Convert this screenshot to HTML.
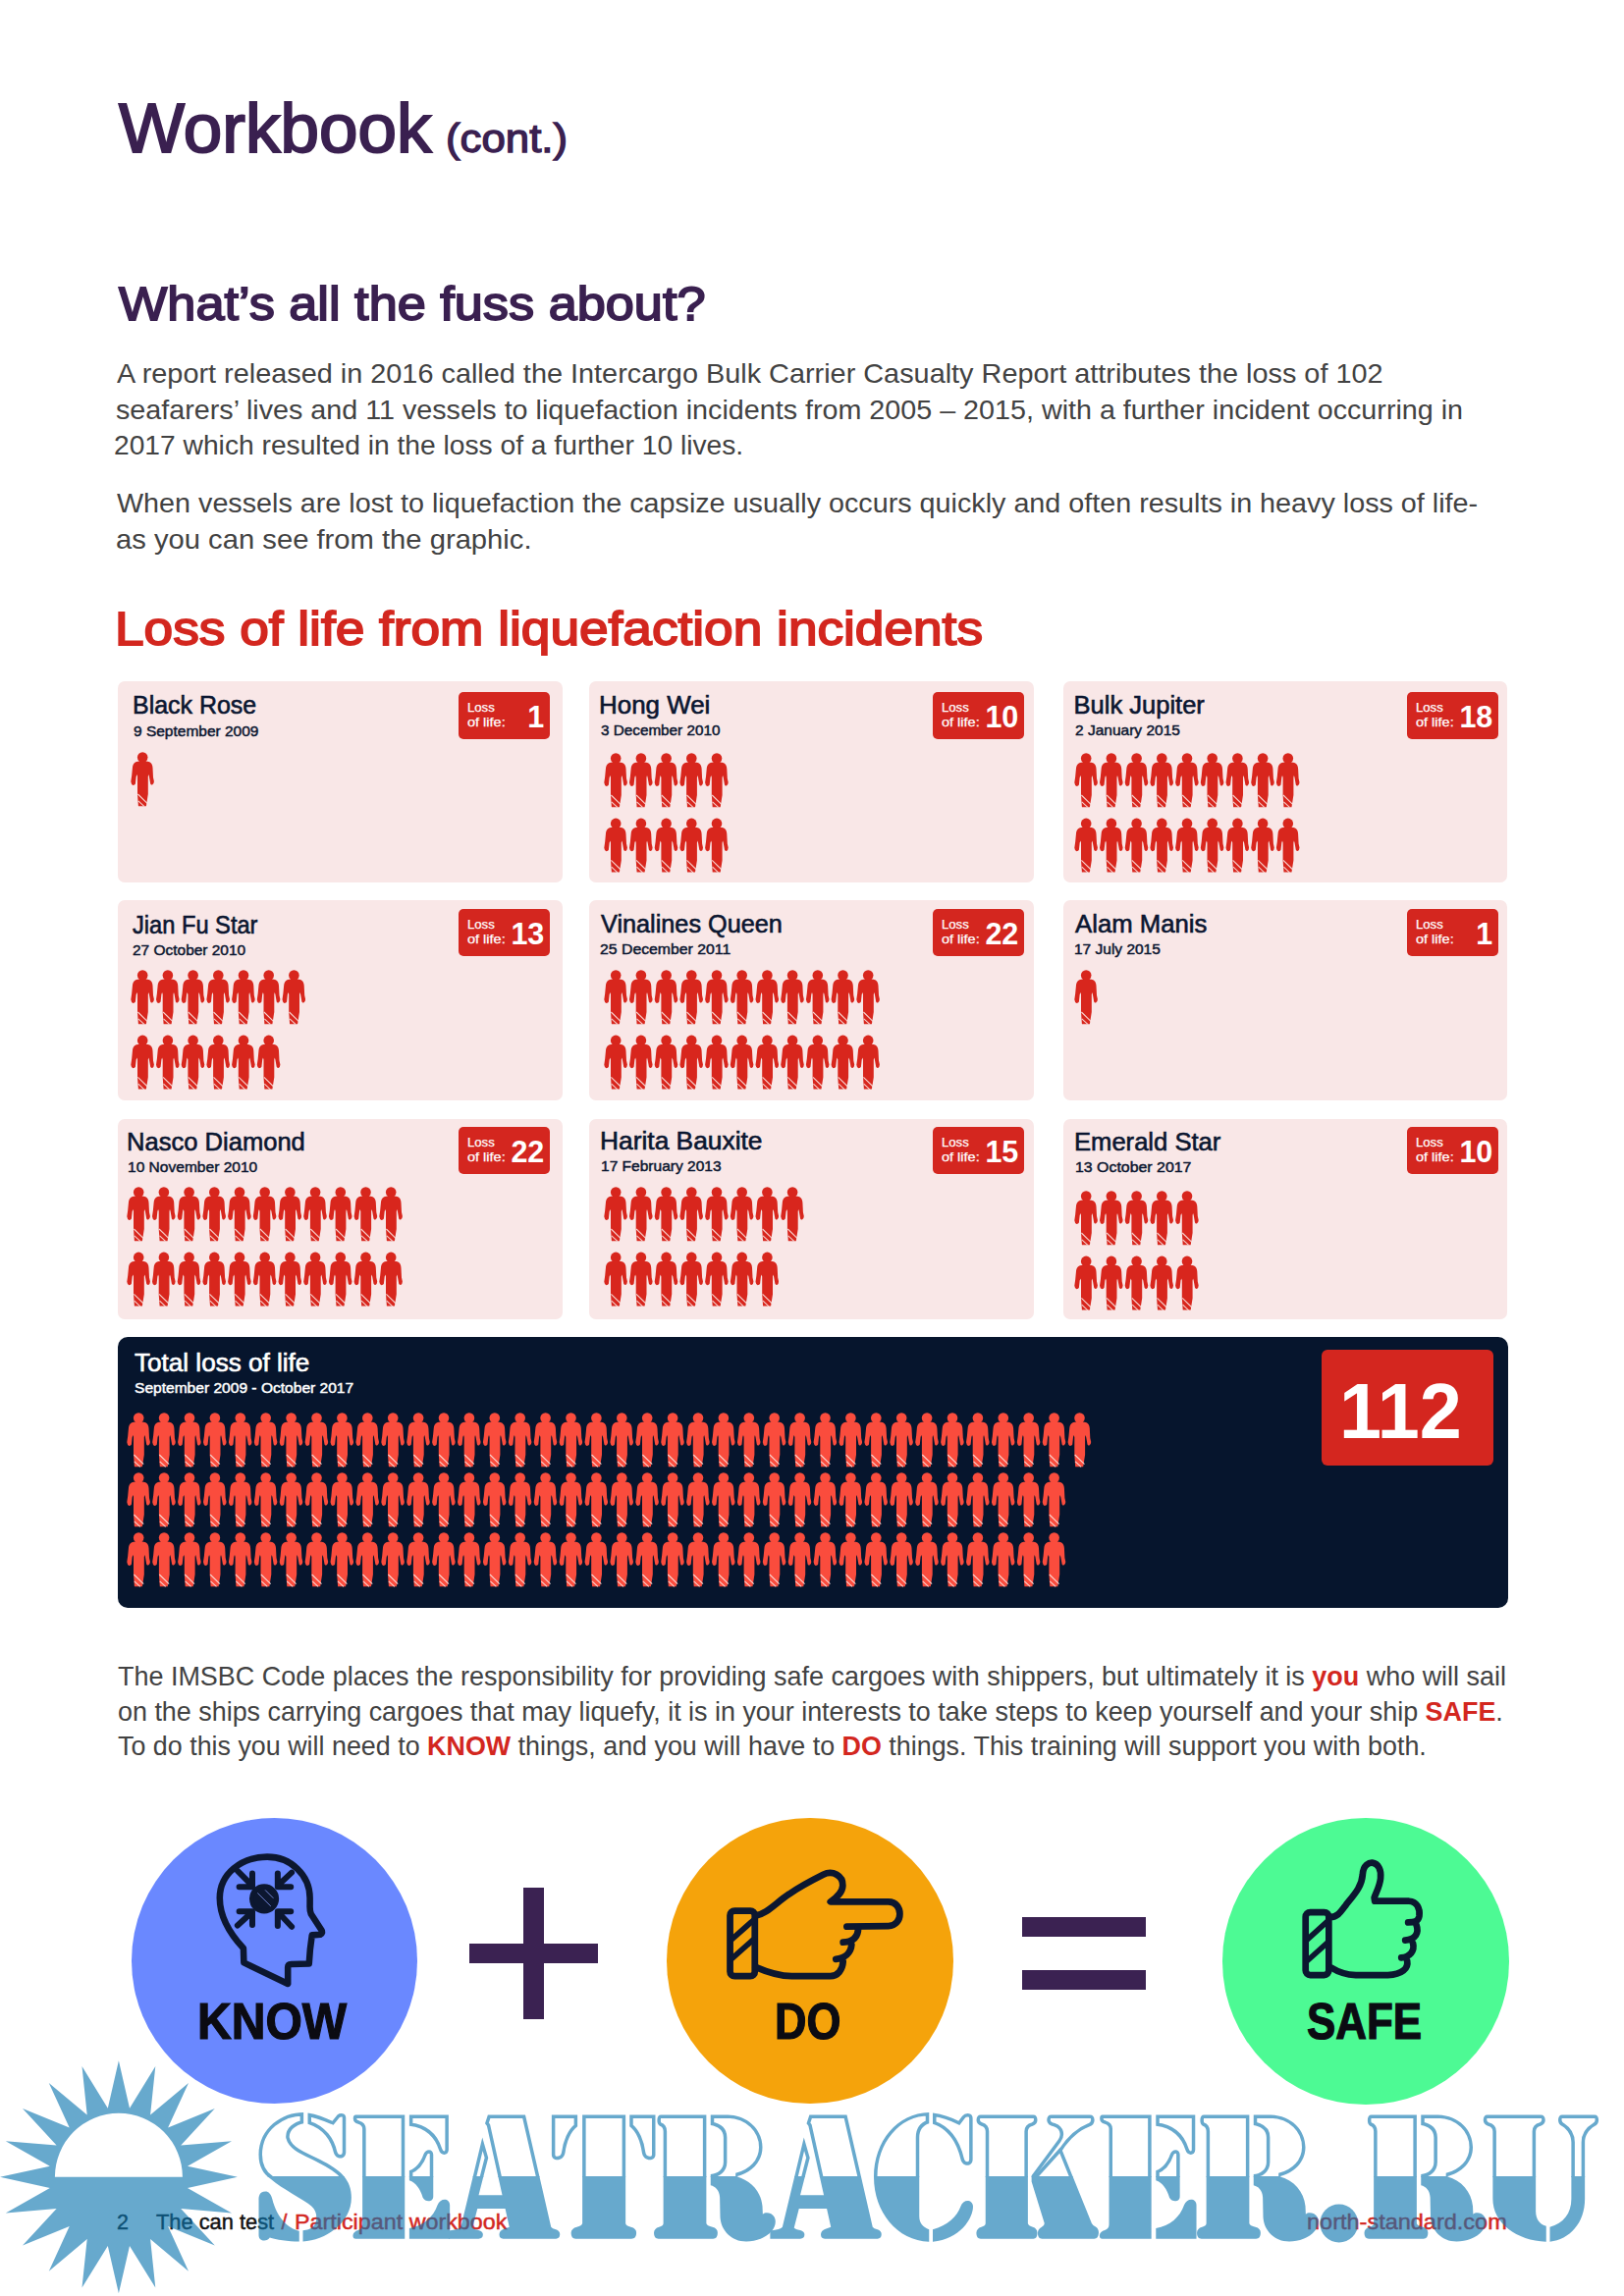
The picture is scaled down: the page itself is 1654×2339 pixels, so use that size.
<!DOCTYPE html>
<html><head><meta charset="utf-8"><title>Workbook</title>
<style>
html,body{margin:0;padding:0;background:#fff}
#page{position:relative;width:1654px;height:2339px;overflow:hidden;background:#fff;font-family:'Liberation Sans', sans-serif}
.t{position:absolute;white-space:nowrap;line-height:1;display:block}
.card{position:absolute;width:452.6px;height:204.3px;background:#f9e7e7;border-radius:7px}
.badge{position:absolute;width:93px;height:48px;background:#d4261f;border-radius:5px}
.total{position:absolute;background:#06152d;border-radius:10px}
.bigbadge{position:absolute;background:#d4261f;border-radius:6px}
.circ{position:absolute;width:291.5px;height:291.5px;border-radius:50%}
.bar{position:absolute;background:#3b2252}
</style></head>
<body><div id="page">
<svg width="0" height="0" style="position:absolute"><defs><g id="pr"><ellipse cx="12.2" cy="6.5" rx="5.3" ry="5.3"/><rect x="9.3" y="8" width="6" height="5"/><path d="M9.3 10.4 Q4.4 10.6 2.9 13.4 Q2.1 15 2 16.5 L1.2 25 L0.3 31.3 Q0.7 34.4 2.4 34.9 Q4.4 34.6 4.9 33.4 L5.7 26 L6.4 24 L7 26 L7 44 L7.9 56.2 L15.9 56.2 L17.8 44 L17.8 26 L18.3 24 L18.9 26 L20.2 33.4 Q20.8 34.6 22.1 34.6 Q23.8 34 23.9 31 L23 27 L22.5 17 Q22.4 15 21.6 13.4 Q20.2 10.6 15.3 10.4 Z"/><path d="M7.4 44 L17.2 53.6 M7.8 50.8 L13.8 56.4" stroke="#fbe3e0" stroke-width="1.1" fill="none" opacity="0.9"/></g></defs></svg>
<div class="card" style="left:120px;top:694.3px"></div>
<div class="badge" style="left:467px;top:705px"></div>
<svg style="position:absolute;left:132.89999999999998px;top:765.4px" width="56" height="76" fill="#d8261d"><use href="#pr" x="0.00" y="0.00"/></svg>
<div class="card" style="left:600px;top:694.3px"></div>
<div class="badge" style="left:950px;top:705px"></div>
<svg style="position:absolute;left:614.9000000000001px;top:765.8px" width="158" height="143" fill="#d8261d"><use href="#pr" x="0.00" y="0.00"/><use href="#pr" x="25.70" y="0.00"/><use href="#pr" x="51.40" y="0.00"/><use href="#pr" x="77.10" y="0.00"/><use href="#pr" x="102.80" y="0.00"/><use href="#pr" x="0.00" y="66.40"/><use href="#pr" x="25.70" y="66.40"/><use href="#pr" x="51.40" y="66.40"/><use href="#pr" x="77.10" y="66.40"/><use href="#pr" x="102.80" y="66.40"/></svg>
<div class="card" style="left:1082.5px;top:694.3px"></div>
<div class="badge" style="left:1433px;top:705px"></div>
<svg style="position:absolute;left:1093.6000000000001px;top:766.0px" width="261" height="143" fill="#d8261d"><use href="#pr" x="0.00" y="0.00"/><use href="#pr" x="25.70" y="0.00"/><use href="#pr" x="51.40" y="0.00"/><use href="#pr" x="77.10" y="0.00"/><use href="#pr" x="102.80" y="0.00"/><use href="#pr" x="128.50" y="0.00"/><use href="#pr" x="154.20" y="0.00"/><use href="#pr" x="179.90" y="0.00"/><use href="#pr" x="205.60" y="0.00"/><use href="#pr" x="0.00" y="66.40"/><use href="#pr" x="25.70" y="66.40"/><use href="#pr" x="51.40" y="66.40"/><use href="#pr" x="77.10" y="66.40"/><use href="#pr" x="102.80" y="66.40"/><use href="#pr" x="128.50" y="66.40"/><use href="#pr" x="154.20" y="66.40"/><use href="#pr" x="179.90" y="66.40"/><use href="#pr" x="205.60" y="66.40"/></svg>
<div class="card" style="left:120px;top:917.1px"></div>
<div class="badge" style="left:467px;top:926px"></div>
<svg style="position:absolute;left:133.2px;top:987.4px" width="210" height="143" fill="#d8261d"><use href="#pr" x="0.00" y="0.00"/><use href="#pr" x="25.70" y="0.00"/><use href="#pr" x="51.40" y="0.00"/><use href="#pr" x="77.10" y="0.00"/><use href="#pr" x="102.80" y="0.00"/><use href="#pr" x="128.50" y="0.00"/><use href="#pr" x="154.20" y="0.00"/><use href="#pr" x="0.00" y="66.40"/><use href="#pr" x="25.70" y="66.40"/><use href="#pr" x="51.40" y="66.40"/><use href="#pr" x="77.10" y="66.40"/><use href="#pr" x="102.80" y="66.40"/><use href="#pr" x="128.50" y="66.40"/></svg>
<div class="card" style="left:600px;top:917.1px"></div>
<div class="badge" style="left:950px;top:926px"></div>
<svg style="position:absolute;left:614.5px;top:987.4px" width="313" height="143" fill="#d8261d"><use href="#pr" x="0.00" y="0.00"/><use href="#pr" x="25.70" y="0.00"/><use href="#pr" x="51.40" y="0.00"/><use href="#pr" x="77.10" y="0.00"/><use href="#pr" x="102.80" y="0.00"/><use href="#pr" x="128.50" y="0.00"/><use href="#pr" x="154.20" y="0.00"/><use href="#pr" x="179.90" y="0.00"/><use href="#pr" x="205.60" y="0.00"/><use href="#pr" x="231.30" y="0.00"/><use href="#pr" x="257.00" y="0.00"/><use href="#pr" x="0.00" y="66.40"/><use href="#pr" x="25.70" y="66.40"/><use href="#pr" x="51.40" y="66.40"/><use href="#pr" x="77.10" y="66.40"/><use href="#pr" x="102.80" y="66.40"/><use href="#pr" x="128.50" y="66.40"/><use href="#pr" x="154.20" y="66.40"/><use href="#pr" x="179.90" y="66.40"/><use href="#pr" x="205.60" y="66.40"/><use href="#pr" x="231.30" y="66.40"/><use href="#pr" x="257.00" y="66.40"/></svg>
<div class="card" style="left:1082.5px;top:917.1px"></div>
<div class="badge" style="left:1433px;top:926px"></div>
<svg style="position:absolute;left:1093.6000000000001px;top:987.0px" width="56" height="76" fill="#d8261d"><use href="#pr" x="0.00" y="0.00"/></svg>
<div class="card" style="left:120px;top:1139.6px"></div>
<div class="badge" style="left:467px;top:1148px"></div>
<svg style="position:absolute;left:129.29999999999998px;top:1208.3999999999999px" width="313" height="143" fill="#d8261d"><use href="#pr" x="0.00" y="0.00"/><use href="#pr" x="25.70" y="0.00"/><use href="#pr" x="51.40" y="0.00"/><use href="#pr" x="77.10" y="0.00"/><use href="#pr" x="102.80" y="0.00"/><use href="#pr" x="128.50" y="0.00"/><use href="#pr" x="154.20" y="0.00"/><use href="#pr" x="179.90" y="0.00"/><use href="#pr" x="205.60" y="0.00"/><use href="#pr" x="231.30" y="0.00"/><use href="#pr" x="257.00" y="0.00"/><use href="#pr" x="0.00" y="66.40"/><use href="#pr" x="25.70" y="66.40"/><use href="#pr" x="51.40" y="66.40"/><use href="#pr" x="77.10" y="66.40"/><use href="#pr" x="102.80" y="66.40"/><use href="#pr" x="128.50" y="66.40"/><use href="#pr" x="154.20" y="66.40"/><use href="#pr" x="179.90" y="66.40"/><use href="#pr" x="205.60" y="66.40"/><use href="#pr" x="231.30" y="66.40"/><use href="#pr" x="257.00" y="66.40"/></svg>
<div class="card" style="left:600px;top:1139.6px"></div>
<div class="badge" style="left:950px;top:1148px"></div>
<svg style="position:absolute;left:614.5px;top:1208.3999999999999px" width="236" height="143" fill="#d8261d"><use href="#pr" x="0.00" y="0.00"/><use href="#pr" x="25.70" y="0.00"/><use href="#pr" x="51.40" y="0.00"/><use href="#pr" x="77.10" y="0.00"/><use href="#pr" x="102.80" y="0.00"/><use href="#pr" x="128.50" y="0.00"/><use href="#pr" x="154.20" y="0.00"/><use href="#pr" x="179.90" y="0.00"/><use href="#pr" x="0.00" y="66.40"/><use href="#pr" x="25.70" y="66.40"/><use href="#pr" x="51.40" y="66.40"/><use href="#pr" x="77.10" y="66.40"/><use href="#pr" x="102.80" y="66.40"/><use href="#pr" x="128.50" y="66.40"/><use href="#pr" x="154.20" y="66.40"/></svg>
<div class="card" style="left:1082.5px;top:1139.6px"></div>
<div class="badge" style="left:1433px;top:1148px"></div>
<svg style="position:absolute;left:1093.6000000000001px;top:1211.8px" width="158" height="143" fill="#d8261d"><use href="#pr" x="0.00" y="0.00"/><use href="#pr" x="25.70" y="0.00"/><use href="#pr" x="51.40" y="0.00"/><use href="#pr" x="77.10" y="0.00"/><use href="#pr" x="102.80" y="0.00"/><use href="#pr" x="0.00" y="66.40"/><use href="#pr" x="25.70" y="66.40"/><use href="#pr" x="51.40" y="66.40"/><use href="#pr" x="77.10" y="66.40"/><use href="#pr" x="102.80" y="66.40"/></svg>
<div class="total" style="left:120px;top:1362px;width:1416px;height:275.5px"></div>
<div class="bigbadge" style="left:1346px;top:1375px;width:175px;height:118px"></div>
<svg style="position:absolute;left:129.4px;top:1437.9px" width="1014" height="193" fill="#fa4c3d"><use href="#pr" x="0.00" y="0.00"/><use href="#pr" x="25.90" y="0.00"/><use href="#pr" x="51.80" y="0.00"/><use href="#pr" x="77.70" y="0.00"/><use href="#pr" x="103.60" y="0.00"/><use href="#pr" x="129.50" y="0.00"/><use href="#pr" x="155.40" y="0.00"/><use href="#pr" x="181.30" y="0.00"/><use href="#pr" x="207.20" y="0.00"/><use href="#pr" x="233.10" y="0.00"/><use href="#pr" x="259.00" y="0.00"/><use href="#pr" x="284.90" y="0.00"/><use href="#pr" x="310.80" y="0.00"/><use href="#pr" x="336.70" y="0.00"/><use href="#pr" x="362.60" y="0.00"/><use href="#pr" x="388.50" y="0.00"/><use href="#pr" x="414.40" y="0.00"/><use href="#pr" x="440.30" y="0.00"/><use href="#pr" x="466.20" y="0.00"/><use href="#pr" x="492.10" y="0.00"/><use href="#pr" x="518.00" y="0.00"/><use href="#pr" x="543.90" y="0.00"/><use href="#pr" x="569.80" y="0.00"/><use href="#pr" x="595.70" y="0.00"/><use href="#pr" x="621.60" y="0.00"/><use href="#pr" x="647.50" y="0.00"/><use href="#pr" x="673.40" y="0.00"/><use href="#pr" x="699.30" y="0.00"/><use href="#pr" x="725.20" y="0.00"/><use href="#pr" x="751.10" y="0.00"/><use href="#pr" x="777.00" y="0.00"/><use href="#pr" x="802.90" y="0.00"/><use href="#pr" x="828.80" y="0.00"/><use href="#pr" x="854.70" y="0.00"/><use href="#pr" x="880.60" y="0.00"/><use href="#pr" x="906.50" y="0.00"/><use href="#pr" x="932.40" y="0.00"/><use href="#pr" x="958.30" y="0.00"/><use href="#pr" x="0.00" y="61.00"/><use href="#pr" x="25.90" y="61.00"/><use href="#pr" x="51.80" y="61.00"/><use href="#pr" x="77.70" y="61.00"/><use href="#pr" x="103.60" y="61.00"/><use href="#pr" x="129.50" y="61.00"/><use href="#pr" x="155.40" y="61.00"/><use href="#pr" x="181.30" y="61.00"/><use href="#pr" x="207.20" y="61.00"/><use href="#pr" x="233.10" y="61.00"/><use href="#pr" x="259.00" y="61.00"/><use href="#pr" x="284.90" y="61.00"/><use href="#pr" x="310.80" y="61.00"/><use href="#pr" x="336.70" y="61.00"/><use href="#pr" x="362.60" y="61.00"/><use href="#pr" x="388.50" y="61.00"/><use href="#pr" x="414.40" y="61.00"/><use href="#pr" x="440.30" y="61.00"/><use href="#pr" x="466.20" y="61.00"/><use href="#pr" x="492.10" y="61.00"/><use href="#pr" x="518.00" y="61.00"/><use href="#pr" x="543.90" y="61.00"/><use href="#pr" x="569.80" y="61.00"/><use href="#pr" x="595.70" y="61.00"/><use href="#pr" x="621.60" y="61.00"/><use href="#pr" x="647.50" y="61.00"/><use href="#pr" x="673.40" y="61.00"/><use href="#pr" x="699.30" y="61.00"/><use href="#pr" x="725.20" y="61.00"/><use href="#pr" x="751.10" y="61.00"/><use href="#pr" x="777.00" y="61.00"/><use href="#pr" x="802.90" y="61.00"/><use href="#pr" x="828.80" y="61.00"/><use href="#pr" x="854.70" y="61.00"/><use href="#pr" x="880.60" y="61.00"/><use href="#pr" x="906.50" y="61.00"/><use href="#pr" x="932.40" y="61.00"/><use href="#pr" x="0.00" y="122.00"/><use href="#pr" x="25.90" y="122.00"/><use href="#pr" x="51.80" y="122.00"/><use href="#pr" x="77.70" y="122.00"/><use href="#pr" x="103.60" y="122.00"/><use href="#pr" x="129.50" y="122.00"/><use href="#pr" x="155.40" y="122.00"/><use href="#pr" x="181.30" y="122.00"/><use href="#pr" x="207.20" y="122.00"/><use href="#pr" x="233.10" y="122.00"/><use href="#pr" x="259.00" y="122.00"/><use href="#pr" x="284.90" y="122.00"/><use href="#pr" x="310.80" y="122.00"/><use href="#pr" x="336.70" y="122.00"/><use href="#pr" x="362.60" y="122.00"/><use href="#pr" x="388.50" y="122.00"/><use href="#pr" x="414.40" y="122.00"/><use href="#pr" x="440.30" y="122.00"/><use href="#pr" x="466.20" y="122.00"/><use href="#pr" x="492.10" y="122.00"/><use href="#pr" x="518.00" y="122.00"/><use href="#pr" x="543.90" y="122.00"/><use href="#pr" x="569.80" y="122.00"/><use href="#pr" x="595.70" y="122.00"/><use href="#pr" x="621.60" y="122.00"/><use href="#pr" x="647.50" y="122.00"/><use href="#pr" x="673.40" y="122.00"/><use href="#pr" x="699.30" y="122.00"/><use href="#pr" x="725.20" y="122.00"/><use href="#pr" x="751.10" y="122.00"/><use href="#pr" x="777.00" y="122.00"/><use href="#pr" x="802.90" y="122.00"/><use href="#pr" x="828.80" y="122.00"/><use href="#pr" x="854.70" y="122.00"/><use href="#pr" x="880.60" y="122.00"/><use href="#pr" x="906.50" y="122.00"/><use href="#pr" x="932.40" y="122.00"/></svg>
<div class="circ" style="left:133.8px;top:1851.5px;background:#6a88ff"></div>
<div class="circ" style="left:679.3px;top:1851.8px;background:#f5a30b"></div>
<div class="circ" style="left:1245.3px;top:1852.2px;background:#4dfa94"></div>
<div class="bar" style="left:533px;top:1923px;width:21px;height:134px"></div>
<div class="bar" style="left:478px;top:1980.2px;width:131px;height:19.6px"></div>
<div class="bar" style="left:1041px;top:1953px;width:126px;height:19.7px"></div>
<div class="bar" style="left:1041px;top:2007px;width:126px;height:19.7px"></div>
<span class="t" id="h1" style="top:96.05px;font-size:70px;font-weight:400;color:#3a2050;font-family:'Liberation Sans', sans-serif;left:121.00px;transform-origin:0 0;transform:scaleX(1.0145);-webkit-text-stroke:2.0px currentColor;">Workbook</span>
<span class="t" id="h1c" style="top:121.44px;font-size:40px;font-weight:400;color:#3a2050;font-family:'Liberation Sans', sans-serif;left:454.10px;transform-origin:0 0;transform:scaleX(1.0940);-webkit-text-stroke:1.3px currentColor;">(cont.)</span>
<span class="t" id="h2" style="top:285.22px;font-size:49px;font-weight:400;color:#3a2050;font-family:'Liberation Sans', sans-serif;left:120.90px;transform-origin:0 0;transform:scaleX(1.0666);-webkit-text-stroke:1.8px currentColor;">What’s all the fuss about?</span>
<span class="t" id="p1" style="top:367.12px;font-size:27.5px;font-weight:400;color:#424242;font-family:'Liberation Sans', sans-serif;left:118.50px;transform-origin:0 0;transform:scaleX(1.0493);">A report released in 2016 called the Intercargo Bulk Carrier Casualty Report attributes the loss of 102</span>
<span class="t" id="p2" style="top:403.62px;font-size:27.5px;font-weight:400;color:#424242;font-family:'Liberation Sans', sans-serif;left:118.05px;transform-origin:0 0;transform:scaleX(1.0437);">seafarers’ lives and 11 vessels to liquefaction incidents from 2005 – 2015, with a further incident occurring in</span>
<span class="t" id="p3" style="top:440.12px;font-size:27.5px;font-weight:400;color:#424242;font-family:'Liberation Sans', sans-serif;left:116.38px;transform-origin:0 0;transform:scaleX(1.0255);">2017 which resulted in the loss of a further 10 lives.</span>
<span class="t" id="p4" style="top:499.12px;font-size:27.5px;font-weight:400;color:#424242;font-family:'Liberation Sans', sans-serif;left:118.50px;transform-origin:0 0;transform:scaleX(1.0447);">When vessels are lost to liquefaction the capsize usually occurs quickly and often results in heavy loss of life-</span>
<span class="t" id="p5" style="top:535.62px;font-size:27.5px;font-weight:400;color:#424242;font-family:'Liberation Sans', sans-serif;left:117.59px;transform-origin:0 0;transform:scaleX(1.0616);">as you can see from the graphic.</span>
<span class="t" id="h3" style="top:616.12px;font-size:49px;font-weight:400;color:#d3271f;font-family:'Liberation Sans', sans-serif;left:117.24px;transform-origin:0 0;transform:scaleX(1.0855);-webkit-text-stroke:1.8px currentColor;">Loss of life from liquefaction incidents</span>
<span class="t" id="n_BlackRose" style="top:706.31px;font-size:25.5px;font-weight:400;color:#0b1630;font-family:'Liberation Sans', sans-serif;left:135.15px;transform-origin:0 0;transform:scaleX(0.9782);-webkit-text-stroke:0.6px currentColor;">Black Rose</span>
<span class="t" id="d_BlackRose" style="top:737.73px;font-size:14.5px;font-weight:400;color:#0b1630;font-family:'Liberation Sans', sans-serif;left:136.30px;transform-origin:0 0;transform:scaleX(1.0679);-webkit-text-stroke:0.45px currentColor;">9 September 2009</span>
<span class="t" id="l1_BlackRose" style="top:715.24px;font-size:12px;font-weight:400;color:#fff;font-family:'Liberation Sans', sans-serif;left:475.59px;transform-origin:0 0;transform:scaleX(1.0939);-webkit-text-stroke:0.25px currentColor;">Loss</span>
<span class="t" id="l2_BlackRose" style="top:730.04px;font-size:12px;font-weight:400;color:#fff;font-family:'Liberation Sans', sans-serif;left:476.02px;transform-origin:0 0;transform:scaleX(1.2076);-webkit-text-stroke:0.25px currentColor;">of life:</span>
<span class="t" id="num_BlackRose" style="top:715.18px;font-size:30.5px;font-weight:700;color:#fff;font-family:'Liberation Sans', sans-serif;right:1099.7px;transform-origin:100% 0;">1</span>
<span class="t" id="n_HongWei" style="top:706.01px;font-size:25.5px;font-weight:400;color:#0b1630;font-family:'Liberation Sans', sans-serif;left:610.48px;transform-origin:0 0;transform:scaleX(1.0164);-webkit-text-stroke:0.6px currentColor;">Hong Wei</span>
<span class="t" id="d_HongWei" style="top:737.03px;font-size:14.5px;font-weight:400;color:#0b1630;font-family:'Liberation Sans', sans-serif;left:611.95px;transform-origin:0 0;transform:scaleX(1.0533);-webkit-text-stroke:0.45px currentColor;">3 December 2010</span>
<span class="t" id="l1_HongWei" style="top:715.24px;font-size:12px;font-weight:400;color:#fff;font-family:'Liberation Sans', sans-serif;left:958.59px;transform-origin:0 0;transform:scaleX(1.0939);-webkit-text-stroke:0.25px currentColor;">Loss</span>
<span class="t" id="l2_HongWei" style="top:730.04px;font-size:12px;font-weight:400;color:#fff;font-family:'Liberation Sans', sans-serif;left:959.02px;transform-origin:0 0;transform:scaleX(1.2076);-webkit-text-stroke:0.25px currentColor;">of life:</span>
<span class="t" id="num_HongWei" style="top:715.18px;font-size:30.5px;font-weight:700;color:#fff;font-family:'Liberation Sans', sans-serif;right:616.7px;transform-origin:100% 0;">10</span>
<span class="t" id="n_BulkJupiter" style="top:705.91px;font-size:25.5px;font-weight:400;color:#0b1630;font-family:'Liberation Sans', sans-serif;left:1093.61px;transform-origin:0 0;-webkit-text-stroke:0.6px currentColor;">Bulk Jupiter</span>
<span class="t" id="d_BulkJupiter" style="top:737.43px;font-size:14.5px;font-weight:400;color:#0b1630;font-family:'Liberation Sans', sans-serif;left:1094.80px;transform-origin:0 0;transform:scaleX(1.0694);-webkit-text-stroke:0.45px currentColor;">2 January 2015</span>
<span class="t" id="l1_BulkJupiter" style="top:715.24px;font-size:12px;font-weight:400;color:#fff;font-family:'Liberation Sans', sans-serif;left:1441.59px;transform-origin:0 0;transform:scaleX(1.0939);-webkit-text-stroke:0.25px currentColor;">Loss</span>
<span class="t" id="l2_BulkJupiter" style="top:730.04px;font-size:12px;font-weight:400;color:#fff;font-family:'Liberation Sans', sans-serif;left:1442.02px;transform-origin:0 0;transform:scaleX(1.2076);-webkit-text-stroke:0.25px currentColor;">of life:</span>
<span class="t" id="num_BulkJupiter" style="top:715.18px;font-size:30.5px;font-weight:700;color:#fff;font-family:'Liberation Sans', sans-serif;right:133.70000000000005px;transform-origin:100% 0;">18</span>
<span class="t" id="n_JianFuStar" style="top:929.91px;font-size:25.5px;font-weight:400;color:#0b1630;font-family:'Liberation Sans', sans-serif;left:135.23px;transform-origin:0 0;transform:scaleX(0.9273);-webkit-text-stroke:0.6px currentColor;">Jian Fu Star</span>
<span class="t" id="d_JianFuStar" style="top:961.43px;font-size:14.5px;font-weight:400;color:#0b1630;font-family:'Liberation Sans', sans-serif;left:134.80px;transform-origin:0 0;transform:scaleX(1.0661);-webkit-text-stroke:0.45px currentColor;">27 October 2010</span>
<span class="t" id="l1_JianFuStar" style="top:936.24px;font-size:12px;font-weight:400;color:#fff;font-family:'Liberation Sans', sans-serif;left:475.59px;transform-origin:0 0;transform:scaleX(1.0939);-webkit-text-stroke:0.25px currentColor;">Loss</span>
<span class="t" id="l2_JianFuStar" style="top:951.04px;font-size:12px;font-weight:400;color:#fff;font-family:'Liberation Sans', sans-serif;left:476.02px;transform-origin:0 0;transform:scaleX(1.2076);-webkit-text-stroke:0.25px currentColor;">of life:</span>
<span class="t" id="num_JianFuStar" style="top:936.18px;font-size:30.5px;font-weight:700;color:#fff;font-family:'Liberation Sans', sans-serif;right:1099.7px;transform-origin:100% 0;">13</span>
<span class="t" id="n_VinalinesQueen" style="top:929.01px;font-size:25.5px;font-weight:400;color:#0b1630;font-family:'Liberation Sans', sans-serif;left:612.10px;transform-origin:0 0;transform:scaleX(0.9901);-webkit-text-stroke:0.6px currentColor;">Vinalines Queen</span>
<span class="t" id="d_VinalinesQueen" style="top:960.43px;font-size:14.5px;font-weight:400;color:#0b1630;font-family:'Liberation Sans', sans-serif;left:611.28px;transform-origin:0 0;transform:scaleX(1.0898);-webkit-text-stroke:0.45px currentColor;">25 December 2011</span>
<span class="t" id="l1_VinalinesQueen" style="top:936.24px;font-size:12px;font-weight:400;color:#fff;font-family:'Liberation Sans', sans-serif;left:958.59px;transform-origin:0 0;transform:scaleX(1.0939);-webkit-text-stroke:0.25px currentColor;">Loss</span>
<span class="t" id="l2_VinalinesQueen" style="top:951.04px;font-size:12px;font-weight:400;color:#fff;font-family:'Liberation Sans', sans-serif;left:959.02px;transform-origin:0 0;transform:scaleX(1.2076);-webkit-text-stroke:0.25px currentColor;">of life:</span>
<span class="t" id="num_VinalinesQueen" style="top:936.18px;font-size:30.5px;font-weight:700;color:#fff;font-family:'Liberation Sans', sans-serif;right:616.7px;transform-origin:100% 0;">22</span>
<span class="t" id="n_AlamManis" style="top:929.01px;font-size:25.5px;font-weight:400;color:#0b1630;font-family:'Liberation Sans', sans-serif;left:1095.10px;transform-origin:0 0;transform:scaleX(1.0090);-webkit-text-stroke:0.6px currentColor;">Alam Manis</span>
<span class="t" id="d_AlamManis" style="top:960.43px;font-size:14.5px;font-weight:400;color:#0b1630;font-family:'Liberation Sans', sans-serif;left:1094.06px;transform-origin:0 0;transform:scaleX(1.0683);-webkit-text-stroke:0.45px currentColor;">17 July 2015</span>
<span class="t" id="l1_AlamManis" style="top:936.24px;font-size:12px;font-weight:400;color:#fff;font-family:'Liberation Sans', sans-serif;left:1441.59px;transform-origin:0 0;transform:scaleX(1.0939);-webkit-text-stroke:0.25px currentColor;">Loss</span>
<span class="t" id="l2_AlamManis" style="top:951.04px;font-size:12px;font-weight:400;color:#fff;font-family:'Liberation Sans', sans-serif;left:1442.02px;transform-origin:0 0;transform:scaleX(1.2076);-webkit-text-stroke:0.25px currentColor;">of life:</span>
<span class="t" id="num_AlamManis" style="top:936.18px;font-size:30.5px;font-weight:700;color:#fff;font-family:'Liberation Sans', sans-serif;right:133.70000000000005px;transform-origin:100% 0;">1</span>
<span class="t" id="n_NascoDiamond" style="top:1150.71px;font-size:25.5px;font-weight:400;color:#0b1630;font-family:'Liberation Sans', sans-serif;left:129.40px;transform-origin:0 0;transform:scaleX(1.0023);-webkit-text-stroke:0.6px currentColor;">Nasco Diamond</span>
<span class="t" id="d_NascoDiamond" style="top:1182.33px;font-size:14.5px;font-weight:400;color:#0b1630;font-family:'Liberation Sans', sans-serif;left:130.35px;transform-origin:0 0;transform:scaleX(1.0720);-webkit-text-stroke:0.45px currentColor;">10 November 2010</span>
<span class="t" id="l1_NascoDiamond" style="top:1158.24px;font-size:12px;font-weight:400;color:#fff;font-family:'Liberation Sans', sans-serif;left:475.59px;transform-origin:0 0;transform:scaleX(1.0939);-webkit-text-stroke:0.25px currentColor;">Loss</span>
<span class="t" id="l2_NascoDiamond" style="top:1173.04px;font-size:12px;font-weight:400;color:#fff;font-family:'Liberation Sans', sans-serif;left:476.02px;transform-origin:0 0;transform:scaleX(1.2076);-webkit-text-stroke:0.25px currentColor;">of life:</span>
<span class="t" id="num_NascoDiamond" style="top:1158.18px;font-size:30.5px;font-weight:700;color:#fff;font-family:'Liberation Sans', sans-serif;right:1099.7px;transform-origin:100% 0;">22</span>
<span class="t" id="n_HaritaBauxite" style="top:1149.91px;font-size:25.5px;font-weight:400;color:#0b1630;font-family:'Liberation Sans', sans-serif;left:610.54px;transform-origin:0 0;transform:scaleX(1.0335);-webkit-text-stroke:0.6px currentColor;">Harita Bauxite</span>
<span class="t" id="d_HaritaBauxite" style="top:1181.33px;font-size:14.5px;font-weight:400;color:#0b1630;font-family:'Liberation Sans', sans-serif;left:611.55px;transform-origin:0 0;transform:scaleX(1.0706);-webkit-text-stroke:0.45px currentColor;">17 February 2013</span>
<span class="t" id="l1_HaritaBauxite" style="top:1158.24px;font-size:12px;font-weight:400;color:#fff;font-family:'Liberation Sans', sans-serif;left:958.59px;transform-origin:0 0;transform:scaleX(1.0939);-webkit-text-stroke:0.25px currentColor;">Loss</span>
<span class="t" id="l2_HaritaBauxite" style="top:1173.04px;font-size:12px;font-weight:400;color:#fff;font-family:'Liberation Sans', sans-serif;left:959.02px;transform-origin:0 0;transform:scaleX(1.2076);-webkit-text-stroke:0.25px currentColor;">of life:</span>
<span class="t" id="num_HaritaBauxite" style="top:1158.18px;font-size:30.5px;font-weight:700;color:#fff;font-family:'Liberation Sans', sans-serif;right:616.7px;transform-origin:100% 0;">15</span>
<span class="t" id="n_EmeraldStar" style="top:1150.71px;font-size:25.5px;font-weight:400;color:#0b1630;font-family:'Liberation Sans', sans-serif;left:1093.60px;transform-origin:0 0;transform:scaleX(1.0035);-webkit-text-stroke:0.6px currentColor;">Emerald Star</span>
<span class="t" id="d_EmeraldStar" style="top:1182.43px;font-size:14.5px;font-weight:400;color:#0b1630;font-family:'Liberation Sans', sans-serif;left:1094.53px;transform-origin:0 0;transform:scaleX(1.0960);-webkit-text-stroke:0.45px currentColor;">13 October 2017</span>
<span class="t" id="l1_EmeraldStar" style="top:1158.24px;font-size:12px;font-weight:400;color:#fff;font-family:'Liberation Sans', sans-serif;left:1441.59px;transform-origin:0 0;transform:scaleX(1.0939);-webkit-text-stroke:0.25px currentColor;">Loss</span>
<span class="t" id="l2_EmeraldStar" style="top:1173.04px;font-size:12px;font-weight:400;color:#fff;font-family:'Liberation Sans', sans-serif;left:1442.02px;transform-origin:0 0;transform:scaleX(1.2076);-webkit-text-stroke:0.25px currentColor;">of life:</span>
<span class="t" id="num_EmeraldStar" style="top:1158.18px;font-size:30.5px;font-weight:700;color:#fff;font-family:'Liberation Sans', sans-serif;right:133.70000000000005px;transform-origin:100% 0;">10</span>
<span class="t" id="tt" style="top:1375.84px;font-size:25px;font-weight:400;color:#fff;font-family:'Liberation Sans', sans-serif;left:136.89px;transform-origin:0 0;transform:scaleX(1.0436);-webkit-text-stroke:0.6px currentColor;">Total loss of life</span>
<span class="t" id="td" style="top:1406.53px;font-size:14.5px;font-weight:400;color:#fff;font-family:'Liberation Sans', sans-serif;left:136.74px;transform-origin:0 0;transform:scaleX(1.0731);-webkit-text-stroke:0.45px currentColor;">September 2009 - October 2017</span>
<span class="t" id="t112" style="top:1398.43px;font-size:79px;font-weight:700;color:#fff;font-family:'Liberation Sans', sans-serif;left:1364.17px;transform-origin:0 0;transform:scaleX(0.9789);">112</span>
<span class="t" id="q1" style="top:1693.72px;font-size:27.5px;font-weight:400;color:#424242;font-family:'Liberation Sans', sans-serif;left:119.70px;transform-origin:0 0;transform:scaleX(0.9800);">The IMSBC Code places the responsibility for providing safe cargoes with shippers, but ultimately it is <b style="color:#d3271f">you</b> who will sail</span>
<span class="t" id="q2" style="top:1729.72px;font-size:27.5px;font-weight:400;color:#424242;font-family:'Liberation Sans', sans-serif;left:119.70px;transform-origin:0 0;transform:scaleX(0.9781);">on the ships carrying cargoes that may liquefy, it is in your interests to take steps to keep yourself and your ship <b style="color:#d3271f">SAFE</b>.</span>
<span class="t" id="q3" style="top:1765.22px;font-size:27.5px;font-weight:400;color:#424242;font-family:'Liberation Sans', sans-serif;left:119.70px;transform-origin:0 0;transform:scaleX(0.9768);">To do this you will need to <b style="color:#d3271f">KNOW</b> things, and you will have to <b style="color:#d3271f">DO</b> things. This training will support you with both.</span>
<span class="t" id="know" style="top:2034.01px;font-size:51.5px;font-weight:700;color:#0b0b12;font-family:'Liberation Sans', sans-serif;left:200.80px;transform-origin:0 0;transform:scaleX(0.9332);-webkit-text-stroke:1.2px currentColor;">KNOW</span>
<span class="t" id="do" style="top:2034.21px;font-size:51.5px;font-weight:700;color:#0b0b12;font-family:'Liberation Sans', sans-serif;left:789.29px;transform-origin:0 0;transform:scaleX(0.8733);-webkit-text-stroke:1.2px currentColor;">DO</span>
<span class="t" id="safe" style="top:2034.21px;font-size:51.5px;font-weight:700;color:#0b0b12;font-family:'Liberation Sans', sans-serif;left:1330.91px;transform-origin:0 0;transform:scaleX(0.8529);-webkit-text-stroke:1.2px currentColor;">SAFE</span>
<span class="t" id="f1" style="top:2253.80px;font-size:21.5px;font-weight:400;color:#111;font-family:'Liberation Sans', sans-serif;left:119.02px;transform-origin:0 0;transform:scaleX(0.9972);-webkit-text-stroke:0.45px currentColor;">2</span>
<span class="t" id="f2a" style="top:2253.80px;font-size:21.5px;font-weight:400;color:#111;font-family:'Liberation Sans', sans-serif;left:158.98px;transform-origin:0 0;transform:scaleX(1.0152);-webkit-text-stroke:0.45px currentColor;">The can test</span>
<span class="t" id="f2b" style="top:2253.80px;font-size:21.5px;font-weight:400;color:#d3271f;font-family:'Liberation Sans', sans-serif;left:286.50px;transform-origin:0 0;-webkit-text-stroke:0.45px currentColor;">/</span>
<span class="t" id="f2c" style="top:2253.80px;font-size:21.5px;font-weight:400;color:#d3271f;font-family:'Liberation Sans', sans-serif;left:300.30px;transform-origin:0 0;transform:scaleX(1.0844);-webkit-text-stroke:0.45px currentColor;">Participant workbook</span>
<span class="t" id="f3" style="top:2253.80px;font-size:21.5px;font-weight:400;color:#d3271f;font-family:'Liberation Sans', sans-serif;left:1331.26px;transform-origin:0 0;transform:scaleX(1.0929);-webkit-text-stroke:0.45px currentColor;">north-standard.com</span>
<svg style="position:absolute;left:0;top:0" width="1654" height="2339" viewBox="0 0 1654 2339" fill="none" stroke="#0c1730" stroke-linecap="round" stroke-linejoin="round">
<g transform="translate(210,1880) scale(0.08621)" stroke-width="76">
<path d="M965 1635 L965 1440 Q965 1405 1005 1403 L1215 1398 L1228 1230 L1250 1060 L1350 1052 Q1380 1040 1362 1000 L1238 808 Q1222 770 1225 700 L1225 620 C1225 350 1000 135 720 135 C420 135 160 330 160 620 C160 800 240 1000 440 1215 L445 1385 Z"/>
<circle cx="685" cy="630" r="150" fill="#0c1730" stroke-width="50"/>
<g stroke-width="70">
<path d="M370 300 L535 465 M390 490 L545 490 L545 330"/>
<path d="M1010 320 L855 465 M1000 490 L845 490 L845 330"/>
<path d="M370 945 L535 795 M390 780 L545 780 L545 940"/>
<path d="M1010 960 L855 795 M1000 780 L845 780 L845 950"/>
</g>
<path d="M610 565 L760 715 M700 530 L790 620" stroke="#8aa0ff" stroke-width="9"/>
</g>
<g transform="translate(730,1890) scale(0.12315)" stroke-width="55">
<rect x="110" y="460" width="205" height="540" rx="38"/>
<path d="M120 700 L300 540 M120 860 L300 700" stroke-width="46"/>
<path d="M320 500 C420 480 480 400 600 320 C700 250 800 200 880 160 C960 120 1045 170 1042 250 C1040 310 990 350 940 385 L1420 385 C1545 385 1545 585 1420 585 L1075 590"/>
<path d="M1170 600 C1170 680 1120 715 1045 720 M1115 740 C1110 810 1060 850 985 860 M1045 880 C1040 950 1000 1000 940 1000 L620 1000 C500 1000 400 960 320 925"/>
</g>
<g transform="translate(1310,1885) scale(0.09852)" stroke-width="68">
<rect x="200" y="640" width="240" height="650" rx="48"/>
<path d="M215 925 L425 735 M215 1145 L425 955" stroke-width="56"/>
<path d="M460 690 C530 690 560 640 620 560 C700 460 780 380 790 250 C795 150 860 125 890 128 C950 135 985 200 975 290 C965 380 925 440 910 490 L915 525 L1270 525 C1350 530 1385 600 1375 680 C1365 740 1320 745 1260 745"/>
<path d="M1345 770 C1375 850 1340 920 1230 930 M1310 960 C1330 1040 1280 1100 1190 1110 M1250 1140 C1265 1220 1200 1285 1050 1290 L720 1290 C620 1285 540 1260 470 1215"/>
</g>
</svg>
<svg style="position:absolute;left:0;top:0" width="1654" height="2339" viewBox="0 0 1654 2339">
<defs>
<clipPath id="wtop"><rect x="0" y="2100" width="1654" height="117.5"/></clipPath>
<clipPath id="wbot"><rect x="0" y="2217.5" width="1654" height="140"/></clipPath>
<path id="w0" d="M425,95 C250,95 60,220 60,440 C60,540 100,600 160,640 C250,720 420,800 490,860 C540,900 540,980 510,1020 C490,1045 450,1055 420,1058 L420,1148 C600,1140 815,1000 815,790 C815,640 720,560 560,480 C420,410 330,380 310,300 C305,240 360,200 425,185 Z" transform="translate(256.00,2140) scale(0.125)"/>
<clipPath id="k0"><use href="#w0"/></clipPath>
<path id="w1" d="M460,100 C530,110 600,140 660,165 L700,115 Q720,100 745,105 Q770,110 770,140 L770,420 C770,480 690,490 670,420 C650,330 590,230 460,190 Z" transform="translate(256.00,2140) scale(0.125)"/>
<clipPath id="k1"><use href="#w1"/></clipPath>
<path id="w2" d="M115,740 C60,740 60,790 60,810 L60,1095 C60,1150 130,1150 150,1115 C200,1130 300,1148 390,1148 L390,1062 C300,1040 210,960 170,800 C160,760 140,740 115,740 Z" transform="translate(256.00,2140) scale(0.125)"/>
<clipPath id="k2"><use href="#w2"/></clipPath>
<path id="w3" d="M850,115 L1250,115 L1250,1125 L850,1125 Q825,1125 828,1095 Q832,1065 870,1055 Q905,1045 905,1010 L905,230 Q905,200 870,190 Q830,180 830,145 Q830,115 850,115 Z" transform="translate(256.00,2140) scale(0.125)"/>
<clipPath id="k3"><use href="#w3"/></clipPath>
<path id="w4" d="M135,115 L455,115 L455,400 C455,450 390,455 375,400 C345,300 270,220 135,205 Z" transform="translate(400.00,2140) scale(0.125)"/>
<clipPath id="k4"><use href="#w4"/></clipPath>
<path id="w5" d="M135,570 C190,550 230,500 250,440 C265,390 330,390 330,440 L330,780 C330,830 265,830 245,790 C225,720 190,670 135,650 Z" transform="translate(400.00,2140) scale(0.125)"/>
<clipPath id="k5"><use href="#w5"/></clipPath>
<path id="w6" d="M135,1125 L135,1040 C250,1020 330,950 365,850 C385,790 465,790 465,850 L465,1125 Z" transform="translate(400.00,2140) scale(0.125)"/>
<clipPath id="k6"><use href="#w6"/></clipPath>
<path id="w7" d="M775,115 L1080,115 L1290,1030 Q1300,1045 1330,1050 Q1362,1060 1362,1090 Q1360,1125 1330,1125 L900,1125 Q868,1125 868,1090 Q870,1060 900,1048 L950,1030 L767,205 L752,185 Z" transform="translate(400.00,2140) scale(0.125)"/>
<clipPath id="k7"><use href="#w7"/></clipPath>
<path id="w8" d="M730,300 L778,465 L700,770 L900,770 L925,880 L690,880 L650,1035 Q660,1050 700,1055 Q735,1065 735,1090 Q735,1125 700,1125 L455,1125 L455,1060 Q540,1050 555,1030 Z" transform="translate(400.00,2140) scale(0.125)"/>
<clipPath id="k8"><use href="#w8"/></clipPath>
<path id="w9" d="M95,115 L305,115 L305,210 C250,250 215,340 205,420 C195,500 95,500 95,440 Z" transform="translate(550.00,2140) scale(0.125)"/>
<clipPath id="k9"><use href="#w9"/></clipPath>
<path id="w10" d="M345,115 L697,115 L697,1000 Q700,1020 740,1030 Q785,1040 785,1078 Q785,1125 745,1125 L290,1125 Q253,1125 253,1078 Q255,1040 300,1030 Q340,1020 345,1000 Z" transform="translate(550.00,2140) scale(0.125)"/>
<clipPath id="k10"><use href="#w10"/></clipPath>
<path id="w11" d="M730,115 L940,115 L940,440 C940,500 840,500 830,420 C820,340 785,250 730,210 Z" transform="translate(550.00,2140) scale(0.125)"/>
<clipPath id="k11"><use href="#w11"/></clipPath>
<path id="w12" d="M985,115 L1355,115 L1355,1000 Q1360,1020 1405,1030 Q1447,1040 1447,1078 Q1447,1125 1410,1125 L965,1125 Q928,1125 928,1078 Q930,1040 970,1030 Q1005,1020 1005,1000 L1005,250 Q1005,215 975,205 Q955,195 955,160 Q955,115 985,115 Z" transform="translate(550.00,2140) scale(0.125)"/>
<clipPath id="k12"><use href="#w12"/></clipPath>
<path id="w13" d="M190,115 L330,115 C500,120 612,240 612,380 C612,500 520,590 400,618 C520,650 600,740 612,860 L615,925 C640,905 690,915 710,950 C730,990 710,1040 690,1060 C640,1120 560,1148 480,1148 C360,1148 275,1060 268,950 L265,790 C262,730 230,700 190,690 L190,600 C250,595 295,560 295,500 L295,300 C295,240 250,210 190,200 Z" transform="translate(700.00,2140) scale(0.125)"/>
<clipPath id="k13"><use href="#w13"/></clipPath>
<path id="w14" d="M775,115 L1080,115 L1290,1030 Q1300,1045 1330,1050 Q1362,1060 1362,1090 Q1360,1125 1330,1125 L900,1125 Q868,1125 868,1090 Q870,1060 900,1048 L950,1030 L767,205 L752,185 Z" transform="translate(727.50,2140) scale(0.125)"/>
<clipPath id="k14"><use href="#w14"/></clipPath>
<path id="w15" d="M730,300 L778,465 L700,770 L900,770 L925,880 L690,880 L650,1035 Q660,1050 700,1055 Q735,1065 735,1090 Q735,1125 700,1125 L455,1125 L455,1060 Q540,1050 555,1030 Z" transform="translate(727.50,2140) scale(0.125)"/>
<clipPath id="k15"><use href="#w15"/></clipPath>
<path id="w16" d="M610,95 C350,100 160,330 160,620 C160,910 350,1140 610,1150 L610,1050 C560,1030 530,1000 530,940 L530,300 C530,240 560,200 610,185 Z" transform="translate(870.00,2140) scale(0.125)"/>
<clipPath id="k16"><use href="#w16"/></clipPath>
<path id="w17" d="M640,100 C720,110 790,135 850,165 L880,125 Q900,100 935,105 Q965,110 965,145 L965,480 C965,540 885,545 868,480 C845,380 790,240 640,190 Z" transform="translate(870.00,2140) scale(0.125)"/>
<clipPath id="k17"><use href="#w17"/></clipPath>
<path id="w18" d="M640,1050 C760,1020 840,940 868,860 C885,800 965,800 968,860 C970,960 860,1130 640,1150 Z" transform="translate(870.00,2140) scale(0.125)"/>
<clipPath id="k18"><use href="#w18"/></clipPath>
<path id="w19" d="M1030,115 L1460,115 Q1492,115 1492,160 Q1490,195 1455,205 Q1415,215 1415,250 L1415,1000 Q1420,1020 1455,1030 Q1490,1040 1492,1078 Q1492,1125 1460,1125 L1030,1125 Q995,1125 995,1078 Q998,1040 1035,1030 Q1070,1020 1070,1000 L1070,250 Q1070,215 1035,205 Q998,195 996,160 Q996,115 1030,115 Z" transform="translate(870.00,2140) scale(0.125)"/>
<clipPath id="k19"><use href="#w19"/></clipPath>
<path id="w20" d="M245,115 L560,115 Q597,115 597,160 Q595,200 555,212 C470,245 400,310 335,405 L575,1000 Q585,1020 610,1030 Q632,1045 632,1078 Q630,1125 595,1125 L170,1125 Q135,1125 135,1078 Q138,1045 165,1032 Q190,1020 190,1000 L85,660 L85,610 L300,320 C330,280 320,230 270,212 Q212,200 210,160 Q210,115 245,115 Z" transform="translate(1040.00,2140) scale(0.125)"/>
<clipPath id="k20"><use href="#w20"/></clipPath>
<path id="w21" d="M850,115 L1250,115 L1250,1125 L850,1125 Q825,1125 828,1095 Q832,1065 870,1055 Q905,1045 905,1010 L905,230 Q905,200 870,190 Q830,180 830,145 Q830,115 850,115 Z" transform="translate(1016.40,2140) scale(0.125)"/>
<clipPath id="k21"><use href="#w21"/></clipPath>
<path id="w22" d="M135,115 L455,115 L455,400 C455,450 390,455 375,400 C345,300 270,220 135,205 Z" transform="translate(1160.40,2140) scale(0.125)"/>
<clipPath id="k22"><use href="#w22"/></clipPath>
<path id="w23" d="M135,570 C190,550 230,500 250,440 C265,390 330,390 330,440 L330,780 C330,830 265,830 245,790 C225,720 190,670 135,650 Z" transform="translate(1160.40,2140) scale(0.125)"/>
<clipPath id="k23"><use href="#w23"/></clipPath>
<path id="w24" d="M135,1125 L135,1040 C250,1020 330,950 365,850 C385,790 465,790 465,850 L465,1125 Z" transform="translate(1160.40,2140) scale(0.125)"/>
<clipPath id="k24"><use href="#w24"/></clipPath>
<path id="w25" d="M985,115 L1355,115 L1355,1000 Q1360,1020 1405,1030 Q1447,1040 1447,1078 Q1447,1125 1410,1125 L965,1125 Q928,1125 928,1078 Q930,1040 970,1030 Q1005,1020 1005,1000 L1005,250 Q1005,215 975,205 Q955,195 955,160 Q955,115 985,115 Z" transform="translate(1103.00,2140) scale(0.125)"/>
<clipPath id="k25"><use href="#w25"/></clipPath>
<path id="w26" d="M190,115 L330,115 C500,120 612,240 612,380 C612,500 520,590 400,618 C520,650 600,740 612,860 L615,925 C640,905 690,915 710,950 C730,990 710,1040 690,1060 C640,1120 560,1148 480,1148 C360,1148 275,1060 268,950 L265,790 C262,730 230,700 190,690 L190,600 C250,595 295,560 295,500 L295,300 C295,240 250,210 190,200 Z" transform="translate(1253.00,2140) scale(0.125)"/>
<clipPath id="k26"><use href="#w26"/></clipPath>
<path id="w27" d="M985,115 L1355,115 L1355,1000 Q1360,1020 1405,1030 Q1447,1040 1447,1078 Q1447,1125 1410,1125 L965,1125 Q928,1125 928,1078 Q930,1040 970,1030 Q1005,1020 1005,1000 L1005,250 Q1005,215 975,205 Q955,195 955,160 Q955,115 985,115 Z" transform="translate(1273.50,2140) scale(0.125)"/>
<clipPath id="k27"><use href="#w27"/></clipPath>
<path id="w28" d="M190,115 L330,115 C500,120 612,240 612,380 C612,500 520,590 400,618 C520,650 600,740 612,860 L615,925 C640,905 690,915 710,950 C730,990 710,1040 690,1060 C640,1120 560,1148 480,1148 C360,1148 275,1060 268,950 L265,790 C262,730 230,700 190,690 L190,600 C250,595 295,560 295,500 L295,300 C295,240 250,210 190,200 Z" transform="translate(1423.50,2140) scale(0.125)"/>
<clipPath id="k28"><use href="#w28"/></clipPath>
<path id="w29" d="M510,115 L945,115 Q982,115 982,160 Q980,195 945,205 Q905,215 905,250 L905,900 C905,970 940,1010 990,1022 L990,1150 C750,1140 555,1000 555,800 L555,250 Q555,215 515,205 Q480,195 478,160 Q478,115 510,115 Z" transform="translate(1451.00,2140) scale(0.125)"/>
<clipPath id="k29"><use href="#w29"/></clipPath>
<path id="w30" d="M1120,115 L1385,115 Q1417,115 1417,160 Q1415,195 1385,208 C1330,240 1305,290 1305,340 L1305,800 C1305,1000 1180,1130 1020,1150 L1020,1030 C1130,1000 1195,920 1195,800 L1195,340 C1195,290 1170,240 1120,208 Q1090,195 1088,160 Q1088,115 1120,115 Z" transform="translate(1451.00,2140) scale(0.125)"/>
<clipPath id="k30"><use href="#w30"/></clipPath>
</defs>
<g opacity="0.63">
<path d="M120.9,2099.3 L132.0,2147.7 L158.3,2105.1 L153.1,2154.5 L192.0,2121.9 L171.1,2167.6 L218.8,2148.1 L184.2,2185.6 L236.0,2181.2 L191.0,2206.7 L241.9,2217.8 L191.0,2228.9 L236.0,2254.4 L184.2,2250.0 L218.8,2287.5 L171.1,2268.0 L192.0,2313.7 L153.1,2281.1 L158.3,2330.5 L132.0,2287.9 L120.9,2336.3 L109.8,2287.9 L83.5,2330.5 L88.7,2281.1 L49.8,2313.7 L70.7,2268.0 L23.0,2287.5 L57.6,2250.0 L5.8,2254.4 L50.8,2228.9 L-0.1,2217.8 L50.8,2206.7 L5.8,2181.2 L57.6,2185.6 L23.0,2148.1 L70.7,2167.6 L49.8,2121.9 L88.7,2154.5 L83.5,2105.1 L109.8,2147.7 Z M55.9,2217.8 A65,65 0 0 1 185.9,2217.8 Z" fill="rgb(14,118,176)" fill-rule="evenodd"/>
<g clip-path="url(#wtop)"><use href="#w0" clip-path="url(#k0)" fill="none" stroke="rgb(14,118,176)" stroke-width="56"/><use href="#w1" clip-path="url(#k1)" fill="none" stroke="rgb(14,118,176)" stroke-width="56"/><use href="#w2" clip-path="url(#k2)" fill="none" stroke="rgb(14,118,176)" stroke-width="56"/><use href="#w3" clip-path="url(#k3)" fill="none" stroke="rgb(14,118,176)" stroke-width="56"/><use href="#w4" clip-path="url(#k4)" fill="none" stroke="rgb(14,118,176)" stroke-width="56"/><use href="#w5" clip-path="url(#k5)" fill="none" stroke="rgb(14,118,176)" stroke-width="56"/><use href="#w6" clip-path="url(#k6)" fill="none" stroke="rgb(14,118,176)" stroke-width="56"/><use href="#w7" clip-path="url(#k7)" fill="none" stroke="rgb(14,118,176)" stroke-width="56"/><use href="#w8" clip-path="url(#k8)" fill="none" stroke="rgb(14,118,176)" stroke-width="56"/><use href="#w9" clip-path="url(#k9)" fill="none" stroke="rgb(14,118,176)" stroke-width="56"/><use href="#w10" clip-path="url(#k10)" fill="none" stroke="rgb(14,118,176)" stroke-width="56"/><use href="#w11" clip-path="url(#k11)" fill="none" stroke="rgb(14,118,176)" stroke-width="56"/><use href="#w12" clip-path="url(#k12)" fill="none" stroke="rgb(14,118,176)" stroke-width="56"/><use href="#w13" clip-path="url(#k13)" fill="none" stroke="rgb(14,118,176)" stroke-width="56"/><use href="#w14" clip-path="url(#k14)" fill="none" stroke="rgb(14,118,176)" stroke-width="56"/><use href="#w15" clip-path="url(#k15)" fill="none" stroke="rgb(14,118,176)" stroke-width="56"/><use href="#w16" clip-path="url(#k16)" fill="none" stroke="rgb(14,118,176)" stroke-width="56"/><use href="#w17" clip-path="url(#k17)" fill="none" stroke="rgb(14,118,176)" stroke-width="56"/><use href="#w18" clip-path="url(#k18)" fill="none" stroke="rgb(14,118,176)" stroke-width="56"/><use href="#w19" clip-path="url(#k19)" fill="none" stroke="rgb(14,118,176)" stroke-width="56"/><use href="#w20" clip-path="url(#k20)" fill="none" stroke="rgb(14,118,176)" stroke-width="56"/><use href="#w21" clip-path="url(#k21)" fill="none" stroke="rgb(14,118,176)" stroke-width="56"/><use href="#w22" clip-path="url(#k22)" fill="none" stroke="rgb(14,118,176)" stroke-width="56"/><use href="#w23" clip-path="url(#k23)" fill="none" stroke="rgb(14,118,176)" stroke-width="56"/><use href="#w24" clip-path="url(#k24)" fill="none" stroke="rgb(14,118,176)" stroke-width="56"/><use href="#w25" clip-path="url(#k25)" fill="none" stroke="rgb(14,118,176)" stroke-width="56"/><use href="#w26" clip-path="url(#k26)" fill="none" stroke="rgb(14,118,176)" stroke-width="56"/><use href="#w27" clip-path="url(#k27)" fill="none" stroke="rgb(14,118,176)" stroke-width="56"/><use href="#w28" clip-path="url(#k28)" fill="none" stroke="rgb(14,118,176)" stroke-width="56"/><use href="#w29" clip-path="url(#k29)" fill="none" stroke="rgb(14,118,176)" stroke-width="56"/><use href="#w30" clip-path="url(#k30)" fill="none" stroke="rgb(14,118,176)" stroke-width="56"/><path d="M111,632 L326,394" transform="translate(1040.00,2140) scale(0.125)" fill="none" stroke="rgb(14,118,176)" stroke-width="28"/></g>
<g clip-path="url(#wbot)" fill="rgb(14,118,176)"><use href="#w0"/><use href="#w1"/><use href="#w2"/><use href="#w3"/><use href="#w4"/><use href="#w5"/><use href="#w6"/><use href="#w7"/><use href="#w8"/><use href="#w9"/><use href="#w10"/><use href="#w11"/><use href="#w12"/><use href="#w13"/><use href="#w14"/><use href="#w15"/><use href="#w16"/><use href="#w17"/><use href="#w18"/><use href="#w19"/><use href="#w20"/><use href="#w21"/><use href="#w22"/><use href="#w23"/><use href="#w24"/><use href="#w25"/><use href="#w26"/><use href="#w27"/><use href="#w28"/><use href="#w29"/><use href="#w30"/><circle cx="1363.75" cy="2265" r="19.4"/></g>
</g>
</svg>

</div></body></html>
